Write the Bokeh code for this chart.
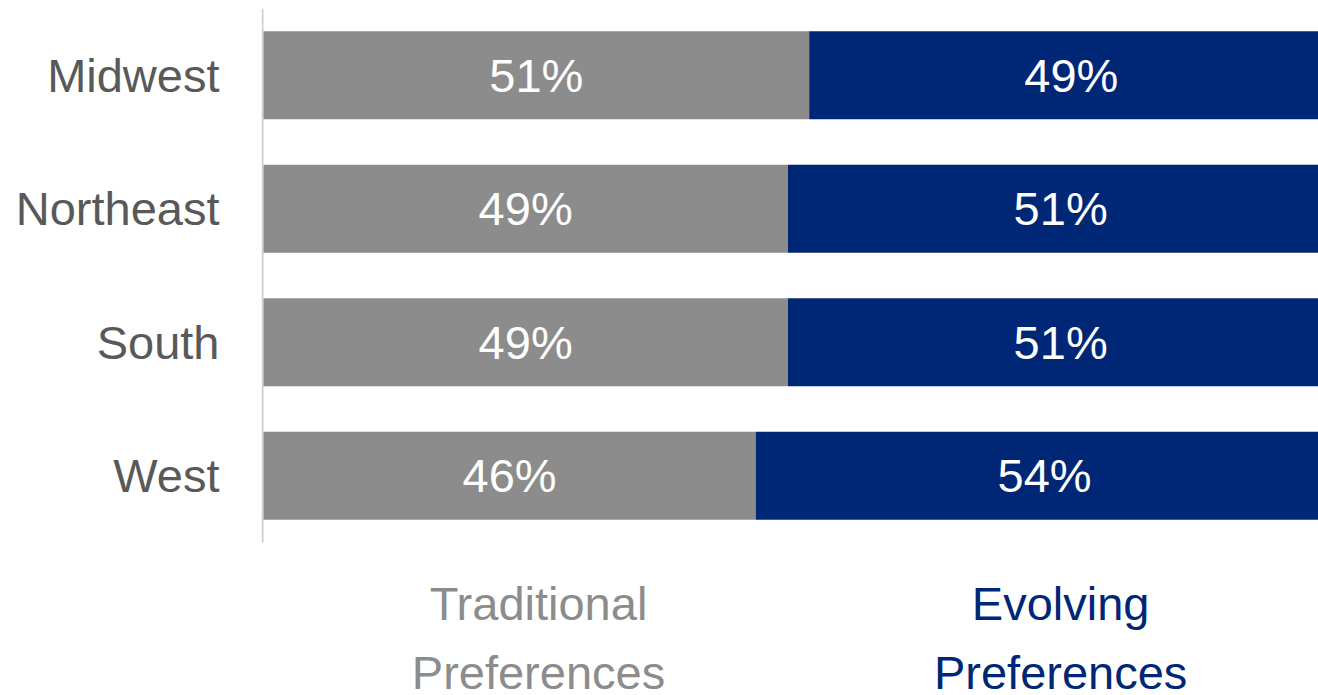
from bokeh.plotting import figure
from bokeh.models import Range1d, FixedTicker, ColumnDataSource
from bokeh.core.properties import value
from bokeh.embed import file_html
from bokeh.resources import INLINE

regions = ["Midwest", "Northeast", "South", "West"]
traditional = [51, 49, 49, 46]
evolving = [49, 51, 51, 54]
series_line1 = ["Traditional", "Evolving"]
series_line2 = ["Preferences", "Preferences"]
colors = ["#8C8C8C", "#002776"]

FONT = "Liberation Sans"
n = len(regions)
ypos = [n - 1 - i for i in range(n)]
totals = [t + e for t, e in zip(traditional, evolving)]

src = ColumnDataSource(dict(
    y=ypos,
    trad=traditional,
    evo=evolving,
    total=totals,
    zero=[0] * n,
    trad_mid=[t / 2 for t in traditional],
    evo_mid=[t + e / 2 for t, e in zip(traditional, evolving)],
    trad_lbl=[f"{t}%" for t in traditional],
    evo_lbl=[f"{e}%" for e in evolving],
))

p = figure(width=1318, height=695, output_backend="svg", toolbar_location=None,
           x_range=Range1d(-0.187, 98.6), y_range=Range1d(-1.646, 3.5),
           min_border_left=261, min_border_right=0, min_border_top=8,
           min_border_bottom=0, outline_line_color=None,
           background_fill_color="white", border_fill_color="white")

p.xaxis.visible = False
p.xgrid.visible = False
p.ygrid.visible = False

yax = p.yaxis[0]
yax.ticker = FixedTicker(ticks=ypos)
yax.major_label_overrides = {y: r for y, r in zip(ypos, regions)}
yax.axis_line_color = None
yax.major_tick_line_color = None
yax.minor_tick_line_color = None
yax.major_tick_out = 0
yax.major_tick_in = 0
yax.major_label_standoff = 42
yax.major_label_text_font = FONT
yax.major_label_text_font_size = "47px"
yax.major_label_text_color = "#595959"

# vertical axis line (just left of the bars)
p.segment(x0=[-0.093], y0=[min(ypos) - 0.5], x1=[-0.093], y1=[max(ypos) + 0.5],
          line_color="#CFCFCF", line_width=2)

p.hbar(y="y", left="zero", right="trad", height=0.66, source=src,
       fill_color=colors[0], line_color=None)
p.hbar(y="y", left="trad", right="total", height=0.66, source=src,
       fill_color=colors[1], line_color=None)

p.text(x="trad_mid", y="y", text="trad_lbl", source=src,
       text_font=value(FONT), text_font_size=value("47px"), text_color="white",
       text_align="center", text_baseline="middle")
p.text(x="evo_mid", y="y", text="evo_lbl", source=src,
       text_font=value(FONT), text_font_size=value("47px"), text_color="white",
       text_align="center", text_baseline="middle")

legend_x = [25.7, 74.5]
line1_y = min(ypos) - 0.957
line2_y = min(ypos) - 1.474
for i in range(2):
    p.text(x=[legend_x[i]], y=[line1_y], text=[series_line1[i]],
           text_font=value(FONT), text_font_size=value("47px"), text_color=colors[i],
           text_align="center", text_baseline="middle")
    p.text(x=[legend_x[i]], y=[line2_y], text=[series_line2[i]],
           text_font=value(FONT), text_font_size=value("47px"), text_color=colors[i],
           text_align="center", text_baseline="middle")

open("out.html", "w").write(file_html(p, INLINE))
